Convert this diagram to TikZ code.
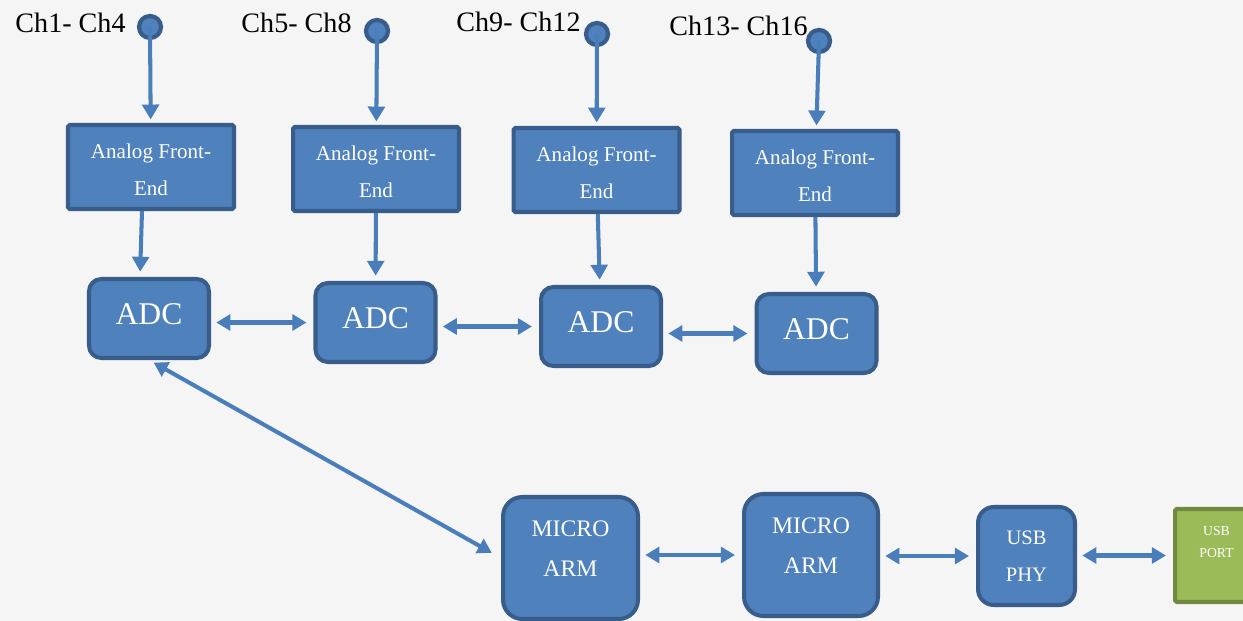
\documentclass[tikz,border=0pt]{standalone}
\usepackage{fontspec}
\setmainfont{Liberation Serif}
\usepackage{tikz}
\usetikzlibrary{arrows.meta}
\usetikzlibrary{positioning}

\definecolor{boxFill}{HTML}{4F81BD}
\definecolor{boxLine}{HTML}{385D8A}
\definecolor{portFill}{HTML}{9BBB59}
\definecolor{portLine}{HTML}{71893F}
\definecolor{wire}{HTML}{4A7EBB}

\begin{document}
\begin{tikzpicture}[x=0.02cm,y=-0.02cm]
            \tikzstyle{myBox}=[rectangle,draw=boxLine,fill=boxFill,line width=2.3pt,text=white,align=center,inner sep=0pt];
            \tikzstyle{myAfe}=[myBox,minimum width=3.32cm,minimum height=1.68cm,rounded corners=1pt,font=\fontsize{12}{21}\selectfont,text height=32pt];
            \tikzstyle{myAdc}=[myBox,minimum width=2.4cm,minimum height=1.58cm,rounded corners=7pt,font=\fontsize{18}{21}\selectfont,text depth=5pt];
            \tikzstyle{myArm}=[myBox,minimum width=2.7cm,minimum height=2.44cm,rounded corners=11pt,font=\fontsize{13.5}{22.7}\selectfont,text depth=10.4pt];
            \tikzstyle{myPin}=[circle,draw=boxLine,fill=boxFill,line width=2.4pt,minimum size=0.44cm,inner sep=0pt];
            \tikzstyle{myLbl}=[font=\fontsize{16}{19}\selectfont,inner sep=0pt];
            \tikzstyle{myArr}=[draw=wire,line width=2.3pt,-{Triangle[length=8.5pt,width=9.5pt]},shorten >=2pt];
            \tikzstyle{myBiArr}=[draw=wire,line width=2.3pt,{Triangle[length=8pt,width=9pt]}-{Triangle[length=8pt,width=9pt]},shorten <=3pt,shorten >=4pt];

            \useasboundingbox (0,0) rectangle (1243,621);
            \fill[black!4] (0,0) rectangle (1243,621);

            % channel inputs
            \node[myPin] (pin1) at (150,27) {};
            \node[myPin] (pin2) at (377,31) {};
            \node[myPin] (pin3) at (597,34) {};
            \node[myPin] (pin4) at (819,41) {};
            \node[myLbl] (lbl1) at (70.5,22.5) {Ch1- Ch4};
            \node[myLbl] (lbl2) at (296.5,23) {Ch5- Ch8};
            \node[myLbl] (lbl3) at (518.5,22) {Ch9- Ch12};
            \node[myLbl] (lbl4) at (738.5,25.5) {Ch13- Ch16};

            % front ends and converters
            \node[myAfe] (afe1) at (151,167) {Analog Front-\\End};
            \node[myAfe] (afe2) at (376,169) {Analog Front-\\End};
            \node[myAfe] (afe3) at (596.5,170) {Analog Front-\\End};
            \node[myAfe] (afe4) at (815,173) {Analog Front-\\End};
            \node[myAdc] (adc1) at (149,318.5) {ADC};
            \node[myAdc] (adc2) at (375.5,322.5) {ADC};
            \node[myAdc] (adc3) at (601,326.5) {ADC};
            \node[myAdc] (adc4) at (816.5,333.5) {ADC};

            % processing and usb
            \node[myArm] (arm1) at (570.5,558) {MICRO\\ARM};
            \node[myArm,minimum width=2.68cm] (arm2) at (811,555) {MICRO\\ARM};
            \node[myBox,minimum width=1.94cm,minimum height=1.96cm,rounded corners=9pt,font=\fontsize{11.7}{21}\selectfont] (phy) at (1026.5,556) {USB\\PHY};
            \node[myBox,draw=portLine,fill=portFill,minimum width=1.66cm,minimum height=1.86cm,rounded corners=1pt,font=\fontsize{7.8}{12.5}\selectfont,text depth=15.5pt] (port) at (1216.5,555.5) {USB\\PORT};

            \draw[myArr] (pin1.center) -- (afe1);
            \draw[myArr] (pin2.center) -- (afe2);
            \draw[myArr] (pin3.center) -- (afe3);
            \draw[myArr] (pin4.center) -- (afe4);
            \draw[myArr,shorten >=3pt] ([xshift=-0.18cm]afe1.south) -- ([xshift=-0.18cm]adc1.north);
            \draw[myArr,shorten >=3pt] (afe2) -- (adc2);
            \draw[myArr,shorten >=3pt] (afe3) -- (adc3);
            \draw[myArr,shorten >=3pt] (afe4) -- (adc4);
            \draw[myBiArr] (adc1.east |- adc2) -- (adc2);
            \draw[myBiArr] (adc2.east |- adc3) -- (adc3);
            \draw[myBiArr] (adc3.east |- adc4) -- (adc4);
            \draw[myBiArr,shorten >=6pt] (adc1.south) -- (arm1.west);
            \draw[myBiArr] (arm1.east |- arm2) -- (arm2);
            \draw[myBiArr] (arm2.east |- phy) -- (phy);
            \draw[myBiArr] (phy.east |- port) -- (port);
\end{tikzpicture}
\end{document}
